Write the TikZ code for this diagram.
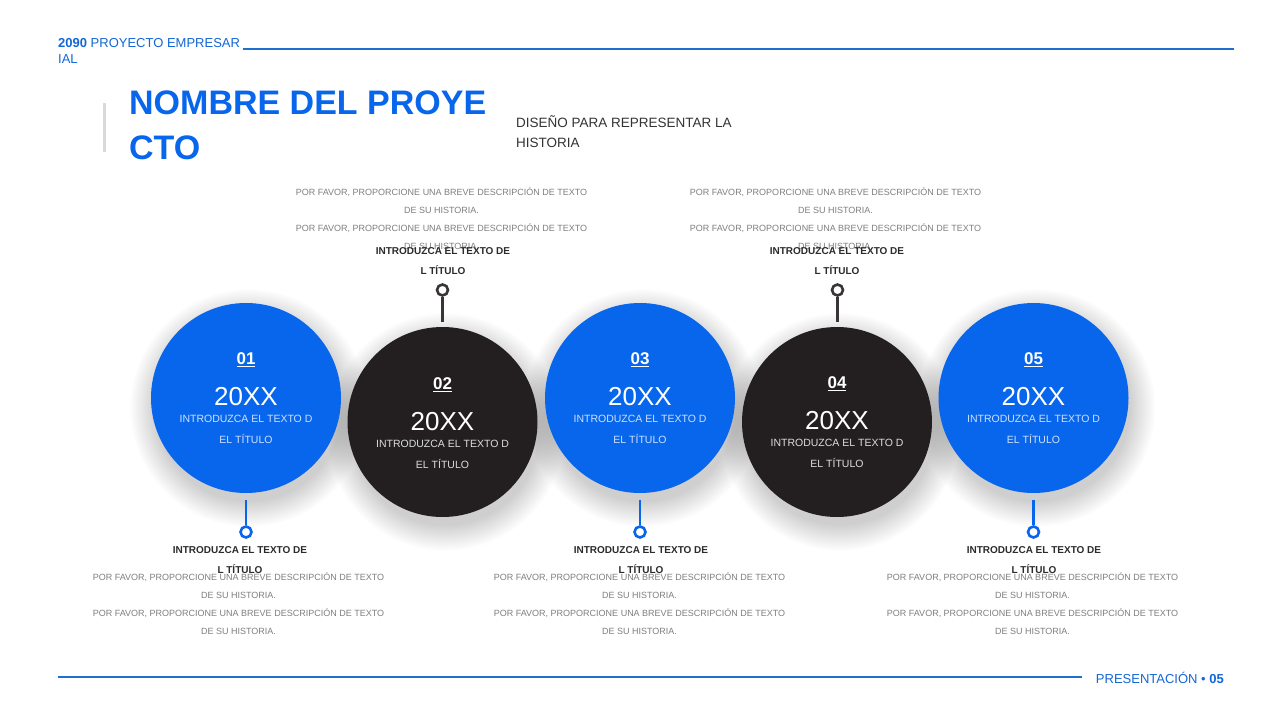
\documentclass[tikz,border=0pt]{standalone}
\usepackage{fontspec}
\setmainfont{Liberation Sans}
\definecolor{mainblue}{HTML}{0866EC}
\definecolor{darkc}{HTML}{231F20}
\definecolor{hdrblue}{HTML}{1467D6}
\definecolor{linecol}{HTML}{1E70D0}
\definecolor{descgray}{HTML}{7F7F7F}
\definecolor{titlegray}{HTML}{2B2B2B}
\definecolor{lightblue}{HTML}{CFE0FF}
\definecolor{lightgray}{HTML}{DDDDDD}
\begin{document}
\begin{tikzpicture}[x=1pt,y=-1pt,
  bigcirc/.style={circle,inner sep=0pt,minimum size=190pt},
  bluecirc/.style={bigcirc,fill=mainblue},
  darkcirc/.style={bigcirc,fill=darkc},
  numtxt/.style={text=white,font={\fontsize{17}{20}\selectfont\bfseries},inner sep=0pt},
  yeartxt/.style={text=white,font={\fontsize{26}{30}\selectfont},inner sep=0pt},
  intxt/.style={align=center,font={\fontsize{10.5}{21}\selectfont},inner sep=0pt},
  desctxt/.style={align=center,text=descgray,font={\fontsize{9}{18}\selectfont},inner sep=0pt},
  ttltxt/.style={align=center,text=titlegray,font={\fontsize{10}{20}\selectfont\bfseries},inner sep=0pt},
  ringb/.style={circle,draw=mainblue,line width=2.6pt,inner sep=0pt,minimum size=11pt,fill=white},
  ringd/.style={circle,draw=darkc!90,line width=2.6pt,inner sep=0pt,minimum size=11pt,fill=white},
  stemb/.style={draw=mainblue,line width=2.6pt},
  stemd/.style={draw=darkc!90,line width=2.6pt}
]
\fill[white] (0,0) rectangle (1280,720);
\useasboundingbox (0,0) rectangle (1280,720);

% soft shadows
\foreach \cx/\cy in {246/398,442.5/422,640/398,837/422,1033.5/398}{
  \foreach \k in {1,...,24}{
    \fill[black,opacity=0.008] (\cx+3,\cy+10) circle (120-\k*1.1);
  }
}

% header
\node[anchor=west,align=left,text=hdrblue,inner sep=0pt,font={\fontsize{13}{16}\selectfont}] (hdr) at (58,51)
  {\textbf{2090} PROYECTO EMPRESAR\\IAL};
\draw[linecol,line width=1.1pt] (243,49) -- (1234,49);

% title
\fill[black!15] (102.5,103) rectangle (105.5,152);
\node[anchor=west,align=left,text=mainblue,inner sep=0pt,font={\fontsize{34}{45}\selectfont\bfseries}] (title) at (129,125.5)
  {NOMBRE DEL PROYE\\CTO};
\node[anchor=west,align=left,text=black!80,inner sep=0pt,font={\fontsize{13.5}{20}\selectfont}] (sub) at (516,132)
  {DISEÑO PARA REPRESENTAR LA\\HISTORIA};

% circles
\node[bluecirc] (c1) at (246,398) {};
\node[darkcirc] (c2) at (442.5,422) {};
\node[bluecirc] (c3) at (640,398) {};
\node[darkcirc] (c4) at (837,422) {};
\node[bluecirc] (c5) at (1033.5,398) {};

% circle texts
\node[numtxt] (n1) at (246,360) {\underline{01}};
\node[yeartxt] (y1) at (246,397) {20XX};
\node[intxt,text=lightblue] (t1) at (246,429.5) {INTRODUZCA EL TEXTO D\\EL TÍTULO};

\node[numtxt] (n2) at (442.5,385) {\underline{02}};
\node[yeartxt] (y2) at (442.5,422) {20XX};
\node[intxt,text=lightgray] (t2) at (442.5,454) {INTRODUZCA EL TEXTO D\\EL TÍTULO};

\node[numtxt] (n3) at (640,360) {\underline{03}};
\node[yeartxt] (y3) at (640,397) {20XX};
\node[intxt,text=lightblue] (t3) at (640,429.5) {INTRODUZCA EL TEXTO D\\EL TÍTULO};

\node[numtxt] (n4) at (837,384) {\underline{04}};
\node[yeartxt] (y4) at (837,421) {20XX};
\node[intxt,text=lightgray] (t4) at (837,453) {INTRODUZCA EL TEXTO D\\EL TÍTULO};

\node[numtxt] (n5) at (1033.5,360) {\underline{05}};
\node[yeartxt] (y5) at (1033.5,397) {20XX};
\node[intxt,text=lightblue] (t5) at (1033.5,429.5) {INTRODUZCA EL TEXTO D\\EL TÍTULO};

% connectors
\coordinate (s1) at (246,500);
\coordinate (s2) at (442.5,322);
\coordinate (s3) at (640,500);
\coordinate (s4) at (837.5,322);
\coordinate (s5) at (1033.5,500);
\node[ringb] (r1) at (246,532) {};
\node[ringd] (r2) at (442.5,290) {};
\node[ringb] (r3) at (640,532) {};
\node[ringd] (r4) at (837.5,290) {};
\node[ringb] (r5) at (1033.5,532) {};
\draw[stemb] (s1) -- (r1);
\draw[stemd] (s2) -- (r2);
\draw[stemb] (s3) -- (r3);
\draw[stemd] (s4) -- (r4);
\draw[stemb] (s5) -- (r5);

% top labels
\node[desctxt] (d2) at (441.5,219) {POR FAVOR, PROPORCIONE UNA BREVE DESCRIPCIÓN DE TEXTO\\DE SU HISTORIA.\\POR FAVOR, PROPORCIONE UNA BREVE DESCRIPCIÓN DE TEXTO\\DE SU HISTORIA.};
\node[ttltxt] (l2) at (443,261) {INTRODUZCA EL TEXTO DE\\L TÍTULO};
\node[desctxt] (d4) at (835.5,219) {POR FAVOR, PROPORCIONE UNA BREVE DESCRIPCIÓN DE TEXTO\\DE SU HISTORIA.\\POR FAVOR, PROPORCIONE UNA BREVE DESCRIPCIÓN DE TEXTO\\DE SU HISTORIA.};
\node[ttltxt] (l4) at (837,261) {INTRODUZCA EL TEXTO DE\\L TÍTULO};

% bottom labels
\node[desctxt] (d1) at (238.5,604) {POR FAVOR, PROPORCIONE UNA BREVE DESCRIPCIÓN DE TEXTO\\DE SU HISTORIA.\\POR FAVOR, PROPORCIONE UNA BREVE DESCRIPCIÓN DE TEXTO\\DE SU HISTORIA.};
\node[ttltxt] (l1) at (240,560.5) {INTRODUZCA EL TEXTO DE\\L TÍTULO};
\node[desctxt] (d3) at (639.5,604) {POR FAVOR, PROPORCIONE UNA BREVE DESCRIPCIÓN DE TEXTO\\DE SU HISTORIA.\\POR FAVOR, PROPORCIONE UNA BREVE DESCRIPCIÓN DE TEXTO\\DE SU HISTORIA.};
\node[ttltxt] (l3) at (641,560.5) {INTRODUZCA EL TEXTO DE\\L TÍTULO};
\node[desctxt] (d5) at (1032.5,604) {POR FAVOR, PROPORCIONE UNA BREVE DESCRIPCIÓN DE TEXTO\\DE SU HISTORIA.\\POR FAVOR, PROPORCIONE UNA BREVE DESCRIPCIÓN DE TEXTO\\DE SU HISTORIA.};
\node[ttltxt] (l5) at (1034,560.5) {INTRODUZCA EL TEXTO DE\\L TÍTULO};

% footer
\draw[linecol,line width=1.1pt] (58,677) -- (1082,677);
\node[anchor=east,text=hdrblue,inner sep=0pt,font={\fontsize{13}{16}\selectfont}] (foot) at (1224,678)
  {PRESENTACIÓN \textbullet{} \textbf{05}};
\end{tikzpicture}
\end{document}
